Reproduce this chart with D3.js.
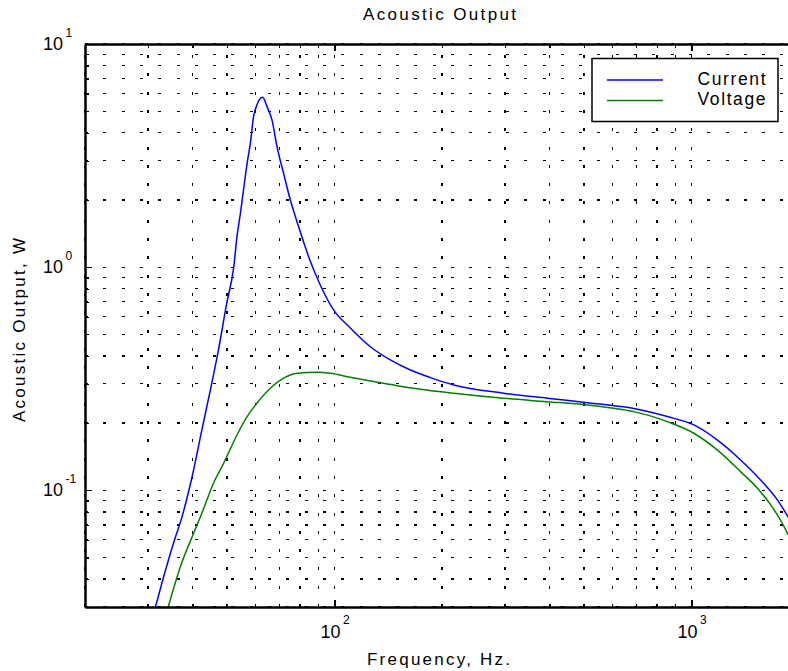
<!DOCTYPE html>
<html>
<head>
<meta charset="utf-8">
<script src="https://cdn.jsdelivr.net/npm/d3@7"></script>
<style>
  body { margin: 0; background: #fff; }
  text { font-family: "Liberation Sans", Arial, Helvetica, sans-serif; fill: #000; }
</style>
</head>
<body>
<svg id="chart" width="788" height="671"></svg>
<script>
// values
const currentFreq = [31.5, 33.2, 35.4, 37.4, 39.9, 42.5, 44.9, 47.3, 49.9, 52.2, 53.3, 54.5, 55.6, 56.9, 58.1, 59.3, 60.6, 62.9, 64.7, 66.8, 69.0, 72.0, 75.2, 79.3, 84.6, 91.2, 99.4, 110.7, 126, 143.3, 163.1, 185.5, 215.7, 297.8, 394, 510, 632, 689, 855, 1015, 1180, 1372, 1561, 1739, 1874];
const currentW = [0.030, 0.0409, 0.0581, 0.0762, 0.115, 0.1865, 0.282, 0.426, 0.69, 1.0, 1.37, 1.744, 2.22, 2.92, 3.59, 4.72, 5.33, 5.77, 5.24, 4.57, 3.47, 2.63, 2.0, 1.52, 1.114, 0.832, 0.643, 0.534, 0.440, 0.384, 0.346, 0.320, 0.2967, 0.2723, 0.2586, 0.2471, 0.2375, 0.2325, 0.214, 0.1963, 0.1682, 0.1368, 0.1113, 0.0906, 0.0750];

const voltageFreq = [34.2, 37.0, 40.3, 42.5, 45.8, 48.9, 53.3, 56.9, 60.6, 66.1, 72.0, 78.5, 89.3, 97.3, 110.7, 126, 149.7, 174, 215.7, 297.8, 394, 510, 632, 689, 855, 1015, 1180, 1372, 1545, 1680, 1795, 1866];
const voltageW = [0.030, 0.0455, 0.0642, 0.0789, 0.1076, 0.132, 0.177, 0.214, 0.2456, 0.2867, 0.318, 0.3346, 0.338, 0.3346, 0.321, 0.309, 0.2944, 0.2838, 0.2723, 0.2586, 0.2496, 0.2413, 0.2308, 0.2252, 0.2032, 0.1802, 0.1517, 0.1213, 0.1004, 0.0845, 0.0712, 0.0631];

const xTickExp = [2, 3];
const yTickExp = [-1, 0, 1];
const seriesNames = ["Current", "Voltage"];
const seriesColors = ["#0000ff", "#008000"];

const svg = d3.select("#chart");
const plotLeft = 85, plotRight = 799, plotTop = 44, plotBottom = 607;

const x = d3.scaleLog().domain([20, 2000]).range([plotLeft, plotRight]);
const y = d3.scaleLog().domain([0.03, 10]).range([plotBottom, plotTop]);

svg.append("defs").append("clipPath").attr("id", "plotclip")
  .append("rect").attr("x", plotLeft).attr("y", plotTop)
  .attr("width", plotRight - plotLeft).attr("height", plotBottom - plotTop);

// dotted grid on every major and minor tick
const grid = svg.append("g").attr("stroke", "#000").attr("stroke-width", 1.3)
  .attr("stroke-dasharray", "3,15.3").attr("shape-rendering", "crispEdges");
grid.selectAll(".vg").data(x.ticks()).enter().append("line")
  .attr("x1", d => x(d)).attr("x2", d => x(d))
  .attr("y1", plotBottom).attr("y2", plotTop);
grid.selectAll(".hg").data(y.ticks()).enter().append("line")
  .attr("x1", plotLeft).attr("x2", plotRight)
  .attr("y1", d => y(d)).attr("y2", d => y(d));

// curves
const line = d3.line()
  .x(d => x(d[0]))
  .y(d => y(d[1]))
  .curve(d3.curveMonotoneX);

const series = [
  d3.zip(currentFreq, currentW),
  d3.zip(voltageFreq, voltageW)
];

svg.append("g").attr("clip-path", "url(#plotclip)")
  .selectAll("path").data(series).enter().append("path")
  .attr("fill", "none")
  .attr("stroke", (d, i) => seriesColors[i])
  .attr("stroke-width", 1.5)
  .attr("d", line);

// axes, ticks pointing inward
const isMajor = d => Math.abs(Math.log10(d) - Math.round(Math.log10(d))) < 1e-9;
const xMajor = x.ticks().filter(isMajor);
const xMinor = x.ticks().filter(d => !isMajor(d));
const yMajor = y.ticks().filter(isMajor);
const yMinor = y.ticks().filter(d => !isMajor(d));

function drawAxis(axisFn, scale, vals, size, tx, ty) {
  const g = svg.append("g")
    .attr("transform", `translate(${tx},${ty})`)
    .call(axisFn(scale).tickValues(vals).tickSize(size).tickSizeOuter(0).tickFormat(""));
  g.selectAll(".tick line").attr("stroke", "#000").attr("stroke-width", 1.3)
    .attr("shape-rendering", "crispEdges");
  g.select(".domain").attr("stroke", "#000").attr("stroke-width", 2);
  return g;
}

drawAxis(d3.axisBottom, x, xMajor, -7, 0, plotBottom);
drawAxis(d3.axisBottom, x, xMinor, -3.5, 0, plotBottom);
drawAxis(d3.axisTop, x, xMajor, -7, 0, plotTop);
drawAxis(d3.axisTop, x, xMinor, -3.5, 0, plotTop);
drawAxis(d3.axisLeft, y, yMajor, -7, plotLeft, 0);
drawAxis(d3.axisLeft, y, yMinor, -3.5, plotLeft, 0);
drawAxis(d3.axisRight, y, yMajor, -7, plotRight, 0);
drawAxis(d3.axisRight, y, yMinor, -3.5, plotRight, 0);

// tick labels as 10 with superscript
xTickExp.forEach(e => {
  const px = x(Math.pow(10, e));
  svg.append("text").attr("x", px + 6).attr("y", 638)
    .attr("text-anchor", "end").attr("font-size", 17.5)
    .attr("textLength", 20).attr("lengthAdjust", "spacingAndGlyphs").text("10");
  svg.append("text").attr("x", px + 8.5).attr("y", 624)
    .attr("font-size", 12).text(e);
});

yTickExp.forEach(e => {
  const py = y(Math.pow(10, e));
  svg.append("text").attr("x", 63).attr("y", py + 5.5)
    .attr("text-anchor", "end").attr("font-size", 17.5)
    .attr("textLength", 20).attr("lengthAdjust", "spacingAndGlyphs").text("10");
  svg.append("text").attr("x", 65.5).attr("y", py - 7.5)
    .attr("font-size", 12).text(e);
});

// title and axis labels
svg.append("text").attr("x", 439.5).attr("y", 20)
  .attr("text-anchor", "middle").attr("font-size", 17)
  .attr("textLength", 153).attr("lengthAdjust", "spacing")
  .text("Acoustic Output");

svg.append("text").attr("x", 438.5).attr("y", 665)
  .attr("text-anchor", "middle").attr("font-size", 17)
  .attr("textLength", 143).attr("lengthAdjust", "spacing")
  .text("Frequency, Hz.");

svg.append("text")
  .attr("transform", "translate(25,330) rotate(-90)")
  .attr("text-anchor", "middle").attr("font-size", 17)
  .attr("textLength", 184).attr("lengthAdjust", "spacing")
  .text("Acoustic Output, W");

// legend
const legend = svg.append("g");
legend.append("rect")
  .attr("x", 592).attr("y", 58.5).attr("width", 186).attr("height", 63)
  .attr("fill", "#fff").attr("stroke", "#000").attr("stroke-width", 1.5);
seriesNames.forEach((name, i) => {
  const ly = 80 + i * 20.5;
  legend.append("line")
    .attr("x1", 607).attr("x2", 663).attr("y1", ly).attr("y2", ly)
    .attr("stroke", seriesColors[i]).attr("stroke-width", 1.5);
  legend.append("text").attr("x", 697.5).attr("y", ly + 4.5)
    .attr("font-size", 17.5).attr("textLength", 68).attr("lengthAdjust", "spacing")
    .text(name);
});
</script>
</body>
</html>
